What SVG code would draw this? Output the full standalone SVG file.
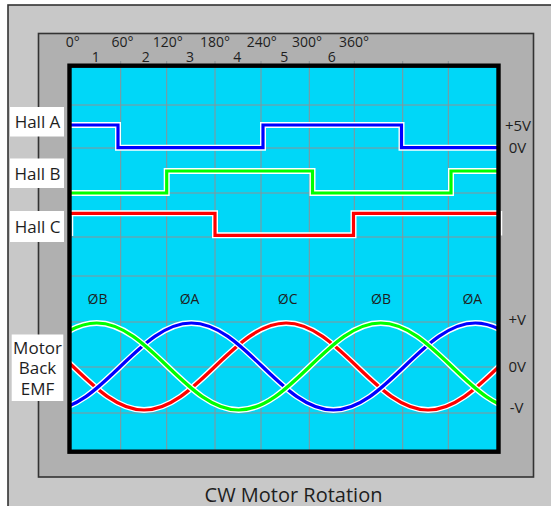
<svg xmlns="http://www.w3.org/2000/svg" width="551" height="506" viewBox="0 0 551 506">
<style>
text{font-family:"Open Sans","Noto Sans","Liberation Sans",sans-serif;fill:#1e1e1e}
.deg{font-size:14px;text-anchor:middle}
.lbl{font-size:17px;text-anchor:middle}
.rv{font-size:15px;text-anchor:middle}
.ph{font-size:14px;text-anchor:middle}
.grid{stroke:#8a9296;stroke-width:1;fill:none}
.halo{fill:none;stroke:#ffffff;stroke-width:6;stroke-linejoin:miter}
.sig{fill:none;stroke-width:3.2;stroke-linejoin:miter}
.box{fill:#ffffff}
</style>
<defs>
<clipPath id="plot"><rect x="69.5" y="65.7" width="429" height="386"/></clipPath>
</defs>
<g id="frame">
<rect x="8" y="5" width="560" height="520" fill="#c8c8c8" stroke="#333333" stroke-width="1.6"/>
<rect x="38.5" y="33.5" width="495" height="443.5" fill="#b0b0b0" stroke="#333333" stroke-width="1.6"/>
<rect x="69.5" y="65.7" width="429" height="386" fill="#00d7f8"/>
</g>
<g id="grid" class="grid">
<path d="M120.7,61V452M166.7,61V452M215,61V452M261,61V452M309.3,61V452M354.3,61V452M402.7,61V452M448.3,61V452"/>
<path d="M69.5,105H498.5M69.5,148H498.5M69.5,193H498.5M69.5,237H498.5M69.5,276H498.5M69.5,322H498.5M69.5,367H498.5M69.5,413H498.5"/>
</g>
<g id="connectors" clip-path="url(#plot)">
<g id="hall-a-signal">
<path class="halo" d="M69,125H118V147.7H263V125H401.5V147.7H500"/>
<path class="sig" stroke="#0000ff" d="M69,125H118V147.7H263V125H401.5V147.7H500"/>
</g>
<g id="hall-b-signal">
<path class="halo" d="M69,193H166.7V171H312.5V193H451V171H500"/>
<path class="sig" stroke="#00ff00" d="M69,193H166.7V171H312.5V193H451V171H500"/>
</g>
<g id="hall-c-signal">
<path class="halo" d="M69,213.3H215V235.3H353.5V213.3H500"/>
<path class="sig" stroke="#ff0000" d="M69,213.3H215V235.3H353.5V213.3H500"/>
<path d="M72.5,215V236" stroke="#ffffff" stroke-width="1.5"/>
</g>
<g id="bemf-red">
<path class="halo" d="M-68.97,366.5c23.16,-22.29 45.3,-43.5 71,-43.5c25.7,0 47.84,21.21 71,43.5c23.16,22.29 45.3,43.5 71,43.5c25.7,0 47.84,-21.21 71,-43.5c23.16,-22.29 45.3,-43.5 71,-43.5c25.7,0 47.84,21.21 71,43.5c23.16,22.29 45.3,43.5 71,43.5c25.7,0 47.84,-21.21 71,-43.5c23.16,-22.29 45.3,-43.5 71,-43.5"/>
<path class="sig" stroke="#ff0000" d="M-68.97,366.5c23.16,-22.29 45.3,-43.5 71,-43.5c25.7,0 47.84,21.21 71,43.5c23.16,22.29 45.3,43.5 71,43.5c25.7,0 47.84,-21.21 71,-43.5c23.16,-22.29 45.3,-43.5 71,-43.5c25.7,0 47.84,21.21 71,43.5c23.16,22.29 45.3,43.5 71,43.5c25.7,0 47.84,-21.21 71,-43.5c23.16,-22.29 45.3,-43.5 71,-43.5"/>
</g>
<g id="bemf-blue">
<path class="halo" d="M-21.63,366.5c23.16,22.29 45.3,43.5 71,43.5c25.7,0 47.84,-21.21 71,-43.5c23.16,-22.29 45.3,-43.5 71,-43.5c25.7,0 47.84,21.21 71,43.5c23.16,22.29 45.3,43.5 71,43.5c25.7,0 47.84,-21.21 71,-43.5c23.16,-22.29 45.3,-43.5 71,-43.5c25.7,0 47.84,21.21 71,43.5"/>
<path class="sig" stroke="#0000ff" d="M-21.63,366.5c23.16,22.29 45.3,43.5 71,43.5c25.7,0 47.84,-21.21 71,-43.5c23.16,-22.29 45.3,-43.5 71,-43.5c25.7,0 47.84,21.21 71,43.5c23.16,22.29 45.3,43.5 71,43.5c25.7,0 47.84,-21.21 71,-43.5c23.16,-22.29 45.3,-43.5 71,-43.5c25.7,0 47.84,21.21 71,43.5"/>
</g>
<g id="bemf-green">
<path class="halo" d="M25.7,366.5c23.16,-22.29 45.3,-43.5 71,-43.5c25.7,0 47.84,21.21 71,43.5c23.16,22.29 45.3,43.5 71,43.5c25.7,0 47.84,-21.21 71,-43.5c23.16,-22.29 45.3,-43.5 71,-43.5c25.7,0 47.84,21.21 71,43.5c23.16,22.29 45.3,43.5 71,43.5"/>
<path class="sig" stroke="#00ff00" d="M25.7,366.5c23.16,-22.29 45.3,-43.5 71,-43.5c25.7,0 47.84,21.21 71,43.5c23.16,22.29 45.3,43.5 71,43.5c25.7,0 47.84,-21.21 71,-43.5c23.16,-22.29 45.3,-43.5 71,-43.5c25.7,0 47.84,21.21 71,43.5c23.16,22.29 45.3,43.5 71,43.5"/>
</g>
</g>
<path d="M501.5,211V235.5" stroke="#ffffff" stroke-width="1.5"/>
<rect id="plot-border" x="69.5" y="65.7" width="429" height="386" fill="none" stroke="#000000" stroke-width="4.4"/>
<g id="degree-labels">
<text class="deg" x="72.7" y="46.5">0°</text>
<text class="deg" x="122.5" y="46.5">60°</text>
<text class="deg" x="167.7" y="46.5">120°</text>
<text class="deg" x="215" y="46.5">180°</text>
<text class="deg" x="261.7" y="46.5">240°</text>
<text class="deg" x="307" y="46.5">300°</text>
<text class="deg" x="354" y="46.5">360°</text>
<text class="deg" x="95.7" y="61.5">1</text>
<text class="deg" x="145.7" y="61.5">2</text>
<text class="deg" x="190" y="61.5">3</text>
<text class="deg" x="237.3" y="61.5">4</text>
<text class="deg" x="284.3" y="61.5">5</text>
<text class="deg" x="331.7" y="61.5">6</text>
</g>
<g id="hall-a">
<rect class="box" x="10" y="107" width="54" height="29.5"/>
<text class="lbl" x="37.5" y="127.5">Hall A</text>
</g>
<g id="hall-b">
<rect class="box" x="10" y="158.5" width="54" height="29.5"/>
<text class="lbl" x="37.5" y="180">Hall B</text>
</g>
<g id="hall-c">
<rect class="box" x="10" y="211" width="54" height="31"/>
<text class="lbl" x="37.5" y="232.5">Hall C</text>
</g>
<g id="motor-back-emf">
<rect class="box" x="11.7" y="334.5" width="51.6" height="66.5"/>
<text class="lbl" x="37.5" y="353.5">Motor</text>
<text class="lbl" x="37.5" y="374">Back</text>
<text class="lbl" x="37.5" y="394.5">EMF</text>
</g>
<g id="phase-labels">
<text class="ph" x="97.5" y="304">ØB</text>
<text class="ph" x="189.5" y="304">ØA</text>
<text class="ph" x="287.7" y="304">ØC</text>
<text class="ph" x="381" y="304">ØB</text>
<text class="ph" x="472.3" y="304">ØA</text>
</g>
<g id="voltage-labels">
<text class="rv" x="518" y="130.7">+5V</text>
<text class="rv" x="517.5" y="152.5">0V</text>
<text class="rv" x="517.3" y="325">+V</text>
<text class="rv" x="517.3" y="372.3">0V</text>
<text class="rv" x="516.7" y="412.7">-V</text>
</g>
<text id="title" x="293.5" y="501.5" font-size="20" text-anchor="middle">CW Motor Rotation</text>
</svg>
